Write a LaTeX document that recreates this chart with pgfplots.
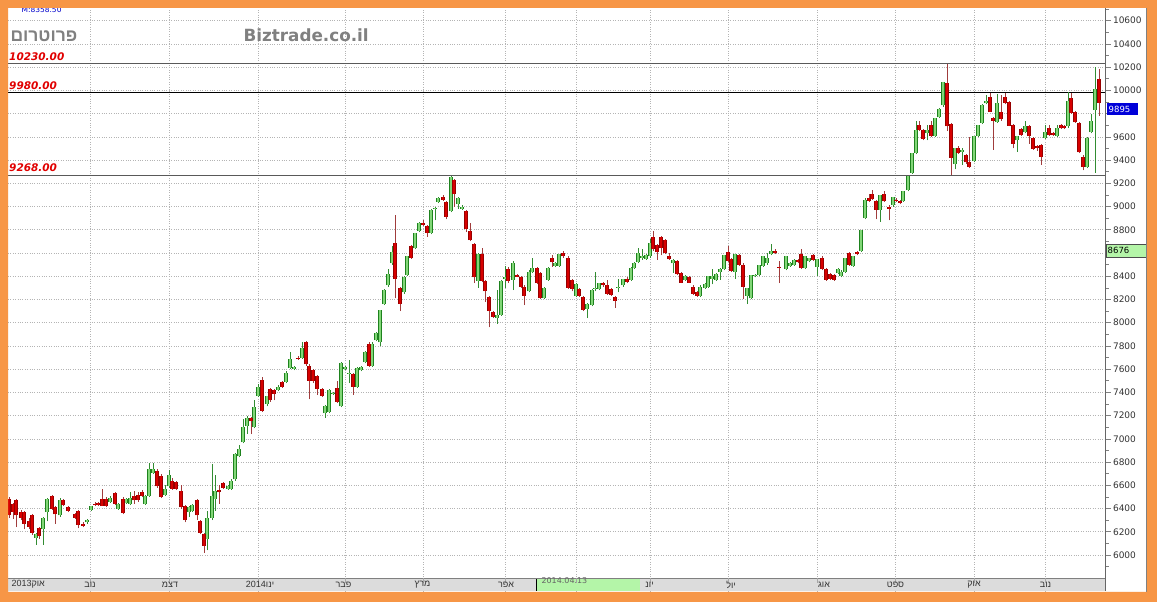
\documentclass[border=0pt]{standalone}
\usepackage{pgfplots}
\pgfplotsset{compat=1.18}
\usepackage{pgfplotstable}
\usepackage{fontspec}
\setmainfont{DejaVu Sans}
\newfontfamily\hebfont[Script=Hebrew]{Liberation Sans}
\TeXXeTstate=1
\definecolor{frameor}{RGB}{247,150,70}
\definecolor{gfill}{RGB}{130,215,120}
\definecolor{gedge}{RGB}{30,130,30}
\definecolor{gwick}{RGB}{50,140,50}
\definecolor{rfill}{RGB}{215,0,0}
\definecolor{redge}{RGB}{150,0,0}
\definecolor{rwick}{RGB}{160,60,60}
\definecolor{gridgray}{RGB}{180,180,180}
\definecolor{bandgray}{RGB}{220,220,220}
\definecolor{boxgreen}{RGB}{180,245,168}
\definecolor{lblred}{RGB}{225,0,0}
\definecolor{logogray}{RGB}{128,128,128}

\pgfplotstableread{
x o h l c
9 6480 6500 6320 6340
13 6440 6450 6310 6370
16 6470 6480 6240 6340
21 6370 6390 6300 6320
24 6370 6380 6220 6270
29 6290 6320 6220 6240
32 6340 6350 6170 6190
36 6150 6190 6090 6180
39 6230 6240 6140 6160
43 6220 6330 6090 6320
47 6370 6490 6290 6480
52 6510 6520 6390 6400
55 6410 6420 6270 6350
60 6340 6490 6330 6470
63 6470 6480 6420 6430
68 6410 6420 6370 6380
75 6350 6360 6310 6320
78 6380 6390 6230 6260
83 6270 6280 6240 6250
87 6280 6310 6270 6300
91 6390 6420 6380 6420
95 6440 6460 6420 6430
98 6450 6460 6420 6430
102 6480 6570 6420 6420
106 6480 6500 6410 6420
110 6460 6510 6450 6490
115 6530 6540 6430 6440
118 6400 6450 6390 6440
123 6480 6500 6350 6360
126 6450 6490 6440 6480
130 6440 6540 6430 6490
134 6510 6550 6440 6470
138 6520 6540 6460 6470
142 6540 6560 6500 6510
145 6440 6520 6430 6510
149 6510 6790 6500 6740
153 6710 6790 6700 6740
157 6720 6740 6580 6590
161 6680 6700 6490 6500
165 6520 6600 6510 6570
169 6590 6730 6580 6690
172 6640 6660 6560 6570
176 6630 6640 6560 6570
181 6550 6600 6400 6410
185 6420 6430 6280 6300
189 6370 6420 6330 6410
192 6380 6440 6370 6430
197 6470 6480 6300 6340
200 6290 6300 6180 6190
204 6180 6190 6020 6080
207 6140 6380 6040 6320
212 6320 6780 6300 6510
215 6480 6690 6380 6550
219 6560 6600 6440 6540
223 6620 6630 6570 6580
228 6570 6600 6560 6590
231 6570 6650 6560 6640
235 6650 6880 6640 6870
239 6850 6950 6840 6910
243 6970 7170 6960 7100
247 7110 7200 7040 7180
251 7180 7190 7040 7150
254 7100 7330 7090 7270
258 7370 7470 7360 7450
262 7510 7530 7230 7240
267 7300 7370 7280 7370
270 7430 7440 7320 7330
274 7420 7430 7330 7390
278 7420 7460 7410 7450
282 7490 7500 7440 7450
286 7490 7580 7480 7570
290 7610 7750 7600 7690
294 7600 7630 7590 7620
298 7700 7710 7680 7690
302 7700 7830 7690 7780
306 7830 7840 7630 7640
309 7630 7640 7340 7500
313 7590 7600 7480 7500
317 7540 7550 7380 7430
322 7430 7440 7360 7370
325 7220 7290 7180 7280
329 7230 7430 7220 7420
333 7390 7400 7380 7395
337 7440 7500 7310 7320
341 7280 7660 7270 7650
345 7600 7630 7590 7620
349 7560 7680 7480 7570
353 7560 7570 7380 7450
357 7450 7620 7440 7610
361 7590 7630 7580 7620
365 7660 7760 7650 7750
369 7820 7830 7620 7630
372 7630 7830 7620 7820
376 7850 7920 7840 7910
380 7830 8110 7800 8110
384 8160 8290 8150 8280
388 8320 8460 8310 8420
392 8510 8660 8500 8610
395 8690 8930 8210 8380
400 8300 8310 8100 8160
404 8260 8400 8250 8390
407 8410 8570 8400 8570
411 8660 8670 8550 8560
415 8640 8770 8630 8770
419 8790 8870 8780 8860
423 8860 8880 8830 8840
427 8830 8840 8740 8770
431 8770 8980 8760 8970
435 8980 9000 8880 8990
438 9040 9080 9030 9070
443 9080 9100 9050 9060
446 9040 9050 8890 8910
451 8960 9260 8950 9250
454 9230 9240 9000 9110
458 9020 9080 8980 9070
462 8980 9010 8970 9000
466 8960 8970 8780 8810
470 8790 8860 8700 8710
474 8680 8690 8340 8390
478 8360 8600 8300 8590
482 8590 8640 8350 8360
485 8360 8370 8180 8270
489 8220 8230 7960 8100
493 8090 8100 8040 8050
497 8040 8280 7990 8070
501 8070 8370 8060 8360
505 8380 8490 8300 8390
508 8460 8480 8340 8360
513 8370 8530 8280 8510
517 8410 8420 8390 8395
521 8390 8400 8300 8310
524 8310 8320 8150 8230
529 8270 8450 8260 8440
532 8440 8560 8430 8470
537 8470 8480 8330 8340
540 8430 8440 8200 8210
544 8210 8310 8200 8300
548 8370 8480 8360 8470
552 8560 8580 8480 8520
555 8490 8520 8480 8510
559 8490 8590 8480 8590
563 8600 8620 8560 8570
568 8560 8570 8290 8300
572 8370 8380 8270 8290
576 8230 8340 8220 8330
579 8290 8300 8220 8230
583 8220 8230 8100 8110
587 8120 8170 8040 8160
592 8150 8290 8140 8280
595 8290 8440 8270 8300
599 8290 8340 8280 8340
603 8340 8350 8310 8320
607 8320 8370 8240 8250
611 8290 8300 8230 8240
615 8220 8230 8130 8190
618 8300 8380 8260 8310
623 8320 8380 8310 8380
627 8380 8390 8340 8350
631 8370 8480 8360 8470
634 8470 8520 8460 8510
638 8520 8640 8510 8600
642 8560 8630 8540 8570
646 8550 8590 8540 8580
650 8570 8720 8560 8690
653 8740 8790 8620 8630
657 8670 8680 8540 8610
661 8740 8750 8580 8640
665 8710 8720 8590 8600
669 8570 8600 8540 8545
673 8510 8550 8430 8540
677 8530 8540 8410 8415
681 8430 8440 8340 8345
685 8370 8410 8360 8400
689 8390 8400 8340 8345
693 8310 8320 8240 8250
697 8260 8270 8220 8230
700 8230 8320 8220 8310
705 8300 8340 8290 8330
708 8310 8400 8300 8400
712 8380 8460 8330 8400
716 8370 8430 8360 8420
720 8440 8470 8370 8460
724 8460 8580 8450 8580
728 8610 8660 8520 8530
731 8550 8560 8440 8445
735 8440 8590 8380 8590
739 8580 8590 8490 8500
743 8500 8510 8200 8310
747 8230 8300 8160 8300
751 8210 8410 8200 8410
755 8400 8420 8390 8410
759 8410 8500 8400 8500
763 8490 8570 8480 8570
767 8510 8600 8500 8560
771 8590 8680 8580 8620
775 8620 8630 8590 8600
779 8480 8530 8340 8470
786 8460 8570 8450 8570
790 8490 8520 8480 8510
794 8500 8550 8490 8540
798 8540 8550 8510 8520
801 8590 8630 8460 8470
805 8470 8570 8460 8570
809 8530 8560 8520 8560
813 8580 8590 8530 8540
817 8480 8550 8400 8550
822 8560 8570 8450 8460
826 8460 8470 8360 8370
830 8420 8430 8370 8380
834 8410 8420 8360 8370
838 8430 8470 8420 8460
841 8400 8450 8390 8440
845 8440 8560 8430 8560
849 8600 8610 8490 8500
853 8490 8570 8480 8570
857 8610 8620 8580 8590
861 8620 8800 8610 8800
865 8900 9070 8890 9060
869 9070 9110 9040 9050
872 9110 9140 9060 9065
876 9050 9060 8890 8970
880 8970 9100 8870 9100
884 9110 9130 9040 9045
889 9000 9010 8880 8980
893 9010 9080 9000 9080
896 9060 9070 9040 9045
900 9050 9060 9020 9030
903 9050 9130 9040 9130
908 9140 9260 9130 9260
912 9290 9460 9280 9460
916 9460 9740 9450 9660
919 9700 9740 9650 9660
923 9660 9670 9570 9580
927 9630 9700 9570 9660
931 9700 9740 9600 9610
935 9610 9760 9600 9760
939 9770 9850 9760 9840
943 9870 10070 9860 10070
947 10060 10230 9650 9690
951 9710 9720 9270 9420
955 9370 9500 9320 9500
958 9500 9520 9450 9460
962 9470 9500 9360 9490
966 9440 9450 9370 9380
969 9380 9600 9330 9340
974 9390 9610 9380 9610
978 9610 9700 9600 9700
982 9720 9880 9710 9870
986 9890 9960 9880 9910
990 9940 9980 9810 9815
993 9760 9770 9490 9740
997 9730 9970 9720 9890
1001 9810 9960 9740 9750
1005 9940 9980 9880 9890
1009 9900 9910 9690 9695
1013 9700 9710 9500 9540
1017 9570 9610 9470 9610
1021 9670 9680 9610 9615
1025 9640 9740 9630 9690
1029 9690 9700 9540 9610
1033 9590 9600 9490 9495
1037 9520 9530 9480 9500
1041 9530 9540 9360 9430
1045 9590 9700 9580 9640
1049 9680 9700 9610 9615
1053 9630 9640 9610 9612
1057 9610 9700 9600 9680
1061 9700 9710 9670 9672
1064 9690 9700 9670 9672
1068 9690 9990 9680 9910
1071 9930 9980 9800 9805
1075 9810 9820 9720 9725
1079 9720 9730 9460 9465
1083 9430 9440 9310 9340
1087 9340 9600 9330 9590
1091 9640 9800 9630 9740
1095 9830 10200 9290 10010
1099 10100 10180 9780 9895
}\candles

\pgfplotsset{candle/.style={forget plot, draw=none, mark=none,
  error bars/y dir=plus, error bars/y explicit, error bars/error mark=none}}

\begin{document}
\begin{tikzpicture}
\useasboundingbox (0,0) rectangle (1157pt,602pt);
\fill[white] (0,0) rectangle (1157pt,602pt);
\begin{axis}[
  at={(8pt,11pt)}, anchor=south west,
  scale only axis, width=1097.5pt, height=583pt,
  xmin=8, xmax=1105.5, ymin=5690, ymax=10709,
  clip=false,
  axis line style={draw=none},
  xtick={90.7,168.8,258.7,345.6,422.9,505.2,576,650,728,817,895.7,974,1044.8},
  xticklabels={},
  x tick style={draw=none},
  xmajorgrids, ymajorgrids,
  grid style={dotted, color=gridgray, line width=0.6pt},
  ytick={6000,6200,...,8400,8800,9000,...,9600,10000,10200,...,10600},
  extra y ticks={8600,9800},
  extra y tick labels={},
  minor ytick={5900,6100,...,10700},
  ytick pos=right, yticklabel pos=right,
  tick align=outside,
  major tick length=5pt, minor tick length=3pt,
  y tick style={color=gray, line width=0.6pt},
  scaled y ticks=false,
  yticklabel style={font=\fontsize{9}{10}\selectfont, color=black!80, anchor=west, xshift=-1pt,
    /pgf/number format/fixed, /pgf/number format/1000 sep={}},
  /pgf/number format/assume math mode=true,
  unbounded coords=discard,
]
% bottom date band
\fill[bandgray] (axis cs:8,5690) rectangle (axis cs:1105.5,5802);
\fill[boxgreen] (axis cs:536,5690) rectangle (axis cs:640,5802);
\draw[black, line width=0.8pt] (axis cs:536,5690) -- (axis cs:536,5802);
\draw[gray, line width=0.8pt] (axis cs:8,5802) -- (axis cs:1105.5,5802);
\begin{scope}
\clip (axis cs:536,5690) rectangle (axis cs:640,5802);
\node[font=\fontsize{8}{9}\selectfont, text=black!60, anchor=north west] at (axis cs:538,5835) {2014.04.13};
\end{scope}
\pgfplotsinvokeforeach{90.7,168.8,258.7,345.6,422.9,505.2,576,650,728,817,895.7,974,1044.8}{
  \draw[gray!70, line width=0.5pt] (axis cs:#1,5802) -- (axis cs:#1,5760);
}

% level lines
\addplot[forget plot, black!65, line width=1pt] coordinates {(8,10230) (1105.5,10230)};
\addplot[forget plot, black, line width=1pt] coordinates {(8,9980) (1105.5,9980)};
\addplot[forget plot, black!65, line width=1pt] coordinates {(8,9268) (1105.5,9268)};

% wicks
\addplot[candle, restrict expr to domain={\thisrow{c}-\thisrow{o}}{0:100000},
  error bars/error bar style={draw=gwick, line width=0.9pt}]
  table[x=x, y=l, y error plus expr=\thisrow{h}-\thisrow{l}] {\candles};
\addplot[candle, restrict expr to domain={\thisrow{c}-\thisrow{o}}{-100000:-0.5},
  error bars/error bar style={draw=rwick, line width=0.9pt}]
  table[x=x, y=l, y error plus expr=\thisrow{h}-\thisrow{l}] {\candles};
% green bodies
\addplot[candle, restrict expr to domain={\thisrow{c}-\thisrow{o}}{0:100000},
  error bars/error bar style={draw=gedge, line width=3.5pt}]
  table[x=x, y=o, y error plus expr=\thisrow{c}-\thisrow{o}] {\candles};
\addplot[candle, restrict expr to domain={\thisrow{c}-\thisrow{o}}{0:100000},
  error bars/error bar style={draw=gfill, line width=2.0pt}]
  table[x=x, y=o, y error plus expr=\thisrow{c}-\thisrow{o}] {\candles};
% red bodies
\addplot[candle, restrict expr to domain={\thisrow{c}-\thisrow{o}}{-100000:-0.5},
  error bars/error bar style={draw=redge, line width=3.5pt}]
  table[x=x, y=c, y error plus expr=\thisrow{o}-\thisrow{c}] {\candles};
\addplot[candle, restrict expr to domain={\thisrow{c}-\thisrow{o}}{-100000:-0.5},
  error bars/error bar style={draw=rfill, line width=2.0pt}]
  table[x=x, y=c, y error plus expr=\thisrow{o}-\thisrow{c}] {\candles};

% month labels
\begin{scope}[every node/.style={font=\hebfont\fontsize{9}{10}\selectfont, text=black!80}]
\node[anchor=west] at (axis cs:8,5746) {\beginR אוק\beginL2013\endL\endR};
\node at (axis cs:90,5746) {\beginR נוב\endR};
\node at (axis cs:170,5746) {\beginR דצמ\endR};
\node at (axis cs:260,5746) {\beginR ינו\beginL2014\endL\endR};
\node at (axis cs:343.5,5746) {\beginR פבר\endR};
\node at (axis cs:422.5,5746) {\beginR מרץ\endR};
\node at (axis cs:506,5746) {\beginR אפר\endR};
\node at (axis cs:649.5,5746) {\beginR יונ\endR};
\node at (axis cs:731,5746) {\beginR יול\endR};
\node at (axis cs:824,5746) {\beginR אוג\endR};
\node at (axis cs:895.5,5746) {\beginR ספט\endR};
\node at (axis cs:974,5746) {\beginR אוק\endR};
\node at (axis cs:1045.5,5746) {\beginR נוב\endR};
\end{scope}
\draw[gray!80!black, line width=0.8pt] (rel axis cs:1,0) -- (rel axis cs:1,1);
\end{axis}

% texts top-left
\node[anchor=base west, font=\fontsize{7.5}{8}\selectfont, text=blue!80!black] at (18pt,589pt) {M:8358.50};
\node[anchor=west, font=\hebfont\bfseries\fontsize{17.5}{19}\selectfont, text=logogray] at (7pt,566pt) {\beginR פרוטרום\endR};
\node[anchor=west, font=\bfseries\fontsize{16.8}{19}\selectfont, text=logogray] at (240pt,567pt) {Biztrade.co.il};
\node[anchor=base west, font=\bfseries\itshape\fontsize{10.5}{12}\selectfont, text=lblred, inner sep=0pt] at (9pt,541pt) {10230.00};
\node[anchor=base west, font=\bfseries\itshape\fontsize{10.5}{12}\selectfont, text=lblred, inner sep=0pt] at (9pt,512.5pt) {9980.00};
\node[anchor=base west, font=\bfseries\itshape\fontsize{10.5}{12}\selectfont, text=lblred, inner sep=0pt] at (9pt,430pt) {9268.00};

% right-side value boxes
\fill[blue!85!black] (1107pt,487pt) rectangle (1138pt,499pt);
\node[anchor=west, font=\fontsize{8.5}{9}\selectfont, text=white, inner sep=0pt] at (1108.5pt,493pt) {9895};
\fill[boxgreen] (1106pt,345pt) rectangle (1147pt,358pt);
\draw[black!70, line width=0.5pt] (1106pt,345pt) rectangle (1147pt,358pt);
\node[anchor=west, font=\fontsize{8.5}{9}\selectfont, text=black, inner sep=0pt] at (1107.5pt,351.5pt) {8676};
\draw[gray, line width=0.8pt] (1146.5pt,10pt) -- (1146.5pt,594pt);

% orange frame
\fill[frameor, even odd rule] (0,0) rectangle (1157pt,602pt) (8pt,10pt) rectangle (1147pt,594pt);
\end{tikzpicture}
\end{document}
